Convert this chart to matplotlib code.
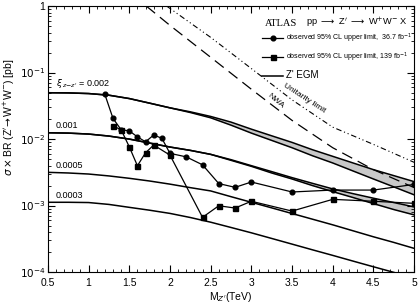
import matplotlib
matplotlib.use("Agg")
import matplotlib.pyplot as plt
from matplotlib.lines import Line2D
from matplotlib.ticker import FixedLocator, FixedFormatter, LogLocator, MultipleLocator, NullFormatter

plt.rcParams['font.family'] = ['Liberation Sans', 'DejaVu Sans']
plt.rcParams['mathtext.fontset'] = 'dejavusans'

# observed limits
mass_36 = [1.2, 1.3, 1.4, 1.5, 1.6, 1.7, 1.8, 1.9, 2.0, 2.2, 2.4, 2.6, 2.8, 3.0, 3.5, 4.0, 4.5, 5.0]
limit_36 = [0.0470, 0.0205, 0.0138, 0.0133, 0.0108, 0.0091, 0.0115, 0.0103, 0.0061, 0.0054,
            0.0041, 0.00214, 0.00188, 0.00226, 0.00160, 0.00171, 0.00171, 0.00208]
mass_139 = [1.3, 1.4, 1.5, 1.6, 1.7, 1.8, 2.0, 2.4, 2.6, 2.8, 3.0, 3.5, 4.0, 4.5, 5.0]
limit_139 = [0.0158, 0.0138, 0.00766, 0.00397, 0.00622, 0.00813, 0.00574, 0.000665, 0.000993,
             0.000917, 0.00116, 0.000826, 0.00124, 0.00116, 0.00108]

# EGM predictions
mass_egm = [0.5, 0.75, 1.0, 1.25, 1.5, 1.75, 2.0, 2.25, 2.5, 2.75, 3.0, 3.25, 3.5, 3.75, 4.0, 4.25, 4.5, 4.75, 5.0]
egm_002_hi = [0.0498, 0.0495, 0.0484, 0.0457, 0.0407, 0.0347, 0.0295, 0.0257, 0.0219, 0.0180,
              0.0141, 0.0112, 0.00891, 0.00692, 0.00550, 0.00437, 0.00347, 0.00282, 0.00229]
egm_002_lo = [0.0498, 0.0495, 0.0484, 0.0457, 0.0407, 0.0347, 0.0295, 0.0251, 0.0209, 0.0162,
              0.0123, 0.00955, 0.00741, 0.00562, 0.00437, 0.00331, 0.00251, 0.00191, 0.00145]
egm_001_hi = [0.01245, 0.0123, 0.0119, 0.0111, 0.0100, 0.00871, 0.00759, 0.00676, 0.00589, 0.00490,
              0.00398, 0.00324, 0.00263, 0.00216, 0.00178, 0.00151, 0.00129, 0.00111, 0.000955]
egm_001_lo = [0.01245, 0.0123, 0.0119, 0.0111, 0.0100, 0.00871, 0.00759, 0.00676, 0.00589, 0.00479,
              0.00389, 0.00309, 0.00251, 0.00200, 0.00162, 0.00132, 0.00107, 0.000871, 0.000724]
egm_0005 = [0.00316, 0.00309, 0.00298, 0.00279, 0.00257, 0.00234, 0.00210, 0.00186, 0.00166, 0.00136,
            0.00112, 0.000923, 0.000759, 0.000624, 0.000513, 0.000417, 0.000339, 0.000279, 0.000227]
egm_0003 = [0.00112, 0.00112, 0.00111, 0.00104, 0.000940, 0.000851, 0.000762, 0.000661, 0.000562, 0.000468,
            0.000389, 0.000320, 0.000263, 0.000216, 0.000178, 0.000146, 0.000120, 0.0000989, 0.0000813]

# NWA and unitarity limit
mass_nwa = [1.71, 2.0, 2.5, 3.0, 3.5, 4.0, 4.5, 5.0]
nwa = [1.0, 0.513, 0.170, 0.0562, 0.0191, 0.00741, 0.00347, 0.00186]
mass_unit = [1.96, 2.5, 3.0, 3.5, 4.0, 4.5, 5.0]
unitarity = [1.0, 0.339, 0.115, 0.0389, 0.0151, 0.00832, 0.00447]

xi_labels = [r'$\xi_{\,z\mathrm{-}z^{\prime}}$ = 0.002', '0.001', '0.0005', '0.0003']
xi_label_y = [0.0545, 0.0137, 0.00345, 0.00122]

fig = plt.figure(figsize=(4.2, 3.06), dpi=100)
ax = fig.add_axes([0.114, 0.111, 0.872, 0.869])

ax.fill_between(mass_egm, egm_002_lo, egm_002_hi, color='#c8c8c8', lw=0)
ax.fill_between(mass_egm, egm_001_lo, egm_001_hi, color='#c8c8c8', lw=0)
for curve in [egm_002_hi, egm_002_lo, egm_001_hi, egm_001_lo, egm_0005, egm_0003]:
    ax.plot(mass_egm, curve, color='black', lw=1.1)

ax.plot(mass_nwa, nwa, color='black', lw=0.9, linestyle=(0, (9, 5)))
ax.plot(mass_unit, unitarity, color='black', lw=0.8, linestyle=(0, (5, 2.5, 1, 2.5, 1, 2.5)))

ax.plot(mass_36, limit_36, color='black', lw=0.9, marker='o', ms=3.4)
ax.plot(mass_139, limit_139, color='black', lw=0.9, marker='s', ms=3.6)

for lab, yv in zip(xi_labels, xi_label_y):
    ax.text(0.6, yv, lab, fontsize=6.5, va='bottom', ha='left')

ax.text(3.3, 0.038, 'NWA', fontsize=6, rotation=-40, ha='center', va='center')
ax.text(3.65, 0.0414, 'Unitarity limit', fontsize=6, rotation=-33, ha='center', va='center')

ax.set_yscale('log')
ax.set_xlim(0.5, 5)
ax.set_ylim(1e-4, 1)

ax.set_xticks([0.5, 1, 1.5, 2, 2.5, 3, 3.5, 4, 4.5, 5])
ax.set_xticklabels(['0.5', '1', '1.5', '2', '2.5', '3', '3.5', '4', '4.5', '5'])
ax.xaxis.set_minor_locator(MultipleLocator(0.1))
ax.yaxis.set_major_locator(FixedLocator([1e-4, 1e-3, 1e-2, 1e-1, 1]))
ax.yaxis.set_major_formatter(FixedFormatter([r'$10^{-4}$', r'$10^{-3}$', r'$10^{-2}$', r'$10^{-1}$', '1']))
ax.yaxis.set_minor_locator(LogLocator(base=10, subs=range(2, 10)))
ax.yaxis.set_minor_formatter(NullFormatter())
ax.tick_params(which='both', direction='in', top=True, right=True, labelsize=7.5, pad=2)
ax.tick_params(axis='x', which='major', pad=4)
ax.tick_params(which='major', length=5, width=0.8)
ax.tick_params(which='minor', length=2.5, width=0.6)

ax.set_xlabel(r"M$_{Z'}$(TeV)", fontsize=7.5, labelpad=2)
ax.set_ylabel(r"$\sigma\times$BR (Z$'\!\rightarrow$W$^{+}$W$^{-}$) [pb]", fontsize=7.5)
ax.yaxis.set_label_coords(-0.085, 0.58)

ax.text(0.593, 0.936, 'ATLAS', transform=ax.transAxes, fontsize=7.5,
        family='Liberation Serif', va='center', ha='left')
ax.text(0.706, 0.936, r"pp $\longrightarrow$ Z$'$ $\longrightarrow$ W$^{+}$W$^{-}$ X", transform=ax.transAxes,
        fontsize=6.7, va='center', ha='left')

handles = [Line2D([], [], color='black', lw=0.9, marker='o', ms=3.4),
           Line2D([], [], color='black', lw=0.9, marker='s', ms=3.6),
           Line2D([], [], color='black', lw=1.1)]
labels = [r'observed 95% CL upper limit,  36.7 fb$^{-1}$',
          r'observed 95% CL upper limit, 139 fb$^{-1}$',
          "Z' EGM"]
leg = ax.legend(handles, labels, loc='upper left', bbox_to_anchor=(0.585, 0.905),
                frameon=False, fontsize=5, borderpad=0, borderaxespad=0,
                handlelength=3.0, handletextpad=0.4, labelspacing=0.9, numpoints=1)
leg.get_texts()[2].set_fontsize(7)

plt.savefig('out.png', dpi=100)
